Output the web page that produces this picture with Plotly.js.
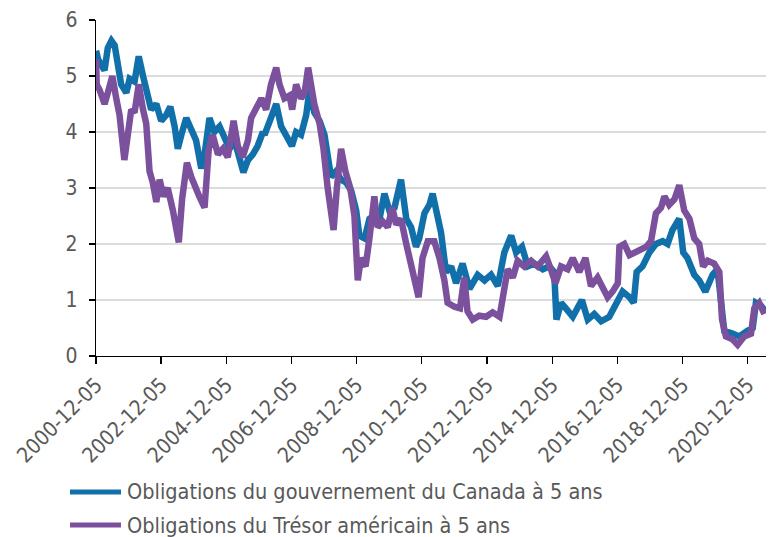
<!DOCTYPE html>
<html>
<head>
<meta charset="utf-8">
<script src="https://cdn.plot.ly/plotly-3.0.1.min.js"></script>
<style>
html,body{margin:0;padding:0;background:#fff;}
#chart{width:774px;height:537px;overflow:hidden;}
</style>
</head>
<body>
<div id="chart"></div>
<script>
// Series names
const seriesNames = [
  "Obligations du gouvernement du Canada à 5 ans",
  "Obligations du Trésor américain à 5 ans"
];
const seriesColors = ['#1170AA', '#7B519D'];

// Canada 5-year yield (time in decimal years, value in %)
const canTime = [2000.93,2000.99,2001.09,2001.19,2001.29,2001.40,2001.50,2001.60,2001.70,2001.86,2001.96,2002.11,2002.24,2002.37,2002.49,2002.62,2002.78,2002.93,2003.08,2003.21,2003.34,2003.44,2003.57,2003.70,2003.85,2004.00,2004.16,2004.26,2004.41,2004.56,2004.72,2004.87,2005.03,2005.18,2005.33,2005.45,2005.59,2005.74,2005.89,2006.05,2006.10,2006.25,2006.46,2006.61,2006.76,2006.94,2007.07,2007.22,2007.38,2007.48,2007.63,2007.79,2007.94,2008.04,2008.14,2008.30,2008.45,2008.60,2008.76,2008.91,2009.01,2009.17,2009.32,2009.47,2009.63,2009.78,2009.93,2010.09,2010.29,2010.45,2010.60,2010.75,2010.85,2011.01,2011.16,2011.26,2011.37,2011.52,2011.67,2011.83,2011.98,2012.18,2012.39,2012.64,2012.85,2013.05,2013.26,2013.46,2013.67,2013.82,2014.00,2014.18,2014.38,2014.64,2014.84,2014.99,2015.06,2015.20,2015.35,2015.56,2015.84,2016.02,2016.22,2016.43,2016.68,2016.89,2017.09,2017.30,2017.43,2017.52,2017.70,2017.91,2018.11,2018.32,2018.47,2018.62,2018.83,2018.95,2019.08,2019.29,2019.44,2019.63,2019.85,2020.00,2020.11,2020.21,2020.46,2020.67,2020.92,2021.08,2021.18,2021.33,2021.47];
const canYield = [5.45,5.30,5.20,5.10,5.50,5.63,5.55,5.10,4.85,4.70,4.95,4.90,5.35,5.00,4.70,4.40,4.50,4.20,4.30,4.45,4.10,3.70,4.00,4.25,4.05,3.85,3.35,3.60,4.25,4.00,4.10,3.90,3.70,3.85,3.50,3.28,3.50,3.60,3.75,4.00,3.95,4.20,4.50,4.10,3.95,3.75,4.00,3.95,4.30,4.75,4.35,4.20,3.95,3.50,3.20,3.30,3.15,3.10,2.95,2.60,2.15,2.10,2.45,2.50,2.45,2.90,2.60,2.65,3.15,2.45,2.30,1.95,2.10,2.55,2.70,2.90,2.60,2.20,1.50,1.60,1.30,1.65,1.20,1.45,1.35,1.45,1.25,1.85,2.15,1.85,1.95,1.60,1.65,1.55,1.60,1.50,0.65,0.95,0.85,0.70,1.00,0.65,0.75,0.62,0.70,0.95,1.15,1.05,0.95,1.50,1.60,1.85,2.00,2.05,2.00,2.25,2.45,1.85,1.75,1.45,1.35,1.15,1.45,1.55,0.80,0.45,0.40,0.35,0.45,0.50,0.95,0.90,0.80];

// US Treasury 5-year yield
const usTime = [2000.93,2000.95,2001.04,2001.19,2001.29,2001.43,2001.55,2001.65,2001.80,2001.91,2002.01,2002.11,2002.24,2002.37,2002.47,2002.57,2002.67,2002.78,2002.88,2003.00,2003.13,2003.29,2003.41,2003.47,2003.57,2003.72,2003.85,2003.98,2004.10,2004.26,2004.39,2004.51,2004.67,2004.82,2004.97,2005.15,2005.28,2005.43,2005.59,2005.69,2005.84,2006.00,2006.15,2006.30,2006.46,2006.56,2006.71,2006.87,2006.95,2007.07,2007.22,2007.33,2007.44,2007.53,2007.63,2007.79,2007.91,2008.04,2008.14,2008.22,2008.32,2008.45,2008.58,2008.73,2008.86,2008.96,2009.06,2009.20,2009.32,2009.47,2009.57,2009.73,2009.88,2010.02,2010.14,2010.29,2010.45,2010.60,2010.73,2010.83,2010.95,2011.11,2011.31,2011.47,2011.62,2011.72,2011.93,2012.10,2012.23,2012.33,2012.49,2012.69,2012.90,2013.10,2013.31,2013.43,2013.56,2013.72,2013.87,2014.07,2014.28,2014.48,2014.74,2014.89,2015.03,2015.20,2015.40,2015.56,2015.76,2015.95,2016.12,2016.32,2016.48,2016.63,2016.78,2016.94,2016.99,2017.14,2017.30,2017.50,2017.65,2017.81,2017.96,2018.11,2018.27,2018.37,2018.52,2018.68,2018.83,2018.98,2019.14,2019.29,2019.44,2019.56,2019.70,2019.90,2020.06,2020.14,2020.26,2020.46,2020.62,2020.82,2021.03,2021.13,2021.28,2021.44];
const usYield = [5.30,4.85,4.75,4.50,4.70,5.00,4.60,4.30,3.50,4.00,4.40,4.35,4.85,4.40,4.15,3.30,3.10,2.75,3.15,2.85,3.00,2.60,2.30,2.03,2.80,3.45,3.20,3.00,2.85,2.65,3.70,3.95,3.60,3.70,3.55,4.20,3.75,3.55,3.85,4.25,4.40,4.60,4.40,4.85,5.15,4.85,4.60,4.65,4.40,4.85,4.60,4.70,5.15,4.75,4.50,4.15,3.70,3.00,2.60,2.25,3.00,3.70,3.30,3.00,2.50,1.35,1.75,1.60,2.10,2.85,2.30,2.40,2.30,2.65,2.35,2.45,2.00,1.60,1.30,1.05,1.75,2.05,2.05,1.75,1.35,0.95,0.88,0.85,1.40,0.80,0.65,0.72,0.70,0.78,0.70,1.20,1.55,1.40,1.70,1.60,1.70,1.60,1.78,1.55,1.30,1.60,1.55,1.75,1.50,1.75,1.25,1.40,1.20,1.05,1.15,1.30,1.95,2.00,1.80,1.85,1.90,1.95,2.05,2.55,2.65,2.85,2.70,2.80,3.05,2.60,2.45,2.10,2.00,1.60,1.70,1.65,1.50,0.65,0.35,0.30,0.20,0.35,0.40,0.85,0.95,0.75];

// Axis tick labels
const xTickLabels = ["2000-12-05","2002-12-05","2004-12-05","2006-12-05","2008-12-05","2010-12-05","2012-12-05","2014-12-05","2016-12-05","2018-12-05","2020-12-05"];
const yTickValues = [0,1,2,3,4,5,6];

function toDate(y){
  const yr = Math.floor(y);
  const a = Date.UTC(yr,0,1), b = Date.UTC(yr+1,0,1);
  return new Date(a + (y-yr)*(b-a)).toISOString().slice(0,10);
}

const fontFam = '"DejaVu Sans Condensed", "Liberation Sans Narrow", "Roboto Condensed", sans-serif';
const grey = '#595959';

const traces = [
  {x: canTime.map(toDate), y: canYield, name: seriesNames[0], type:'scatter', mode:'lines',
   line:{color:seriesColors[0], width:6.5}},
  {x: usTime.map(toDate), y: usYield, name: seriesNames[1], type:'scatter', mode:'lines',
   line:{color:seriesColors[1], width:6.5}}
];

// plot-area geometry (pixels) used to place the hand-drawn legend
const M = {l:96, r:8, t:20, b:181};
const W = 774, H = 537;
const pw = W - M.l - M.r, ph = H - M.t - M.b;
const px2x = p => (p - M.l) / pw;
const px2y = p => (H - M.b - p) / ph;

const legendShapes = [], legendAnn = [];
seriesNames.forEach((nm, i) => {
  const py = 492 + 33 * i;
  legendShapes.push({type:'line', xref:'paper', yref:'paper',
    x0:px2x(70), x1:px2x(121), y0:px2y(py), y1:px2y(py),
    line:{color:seriesColors[i], width:5}});
  legendAnn.push({xref:'paper', yref:'paper', x:px2x(125), y:px2y(py),
    xanchor:'left', yanchor:'middle', showarrow:false, text:nm,
    font:{family:fontFam, size:21.5, color:grey}});
});

const layout = {
  width:W, height:H,
  margin:{l:M.l, r:M.r, t:M.t, b:M.b, pad:0},
  paper_bgcolor:'#ffffff', plot_bgcolor:'#ffffff',
  font:{family:fontFam, color:grey, size:20},
  showlegend:false,
  shapes:legendShapes,
  annotations:legendAnn,
  xaxis:{type:'date', range:['2000-12-05','2021-06-28'], automargin:false,
    tickmode:'array', tickvals:xTickLabels, ticktext:xTickLabels, tickangle:-45,
    ticks:'outside', ticklen:7, tickwidth:1.3, tickcolor:'#000',
    showline:true, linecolor:'#000', linewidth:1.3, showgrid:false, zeroline:false,
    tickfont:{family:fontFam, size:21, color:grey}},
  yaxis:{range:[0,6], tickmode:'array', tickvals:yTickValues, automargin:false,
    ticks:'outside', ticklen:6, tickwidth:1.3, tickcolor:'#000',
    showline:true, linecolor:'#000', linewidth:1.3,
    showgrid:true, gridcolor:'#dcdcdc', gridwidth:1.3, zeroline:false,
    ticklabelstandoff:7,
    tickfont:{family:fontFam, size:21, color:grey}}
};

Plotly.newPlot('chart', traces, layout, {displayModeBar:false, staticPlot:true});
</script>
</body>
</html>
